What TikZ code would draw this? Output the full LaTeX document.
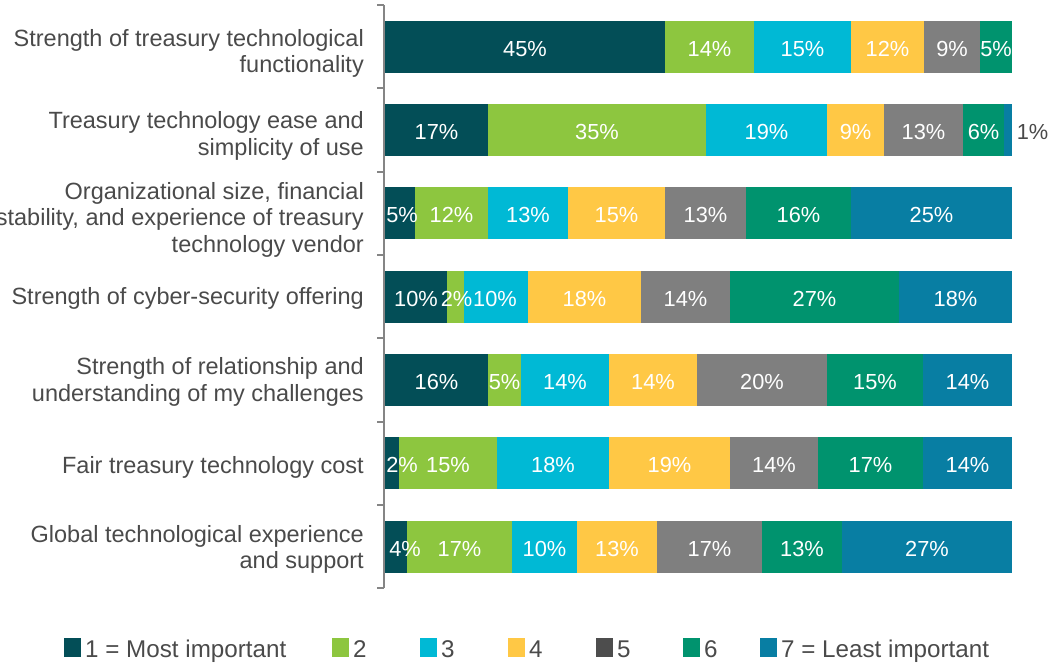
\documentclass[tikz,border=0pt]{standalone}
\usepackage{fontspec}
\setmainfont{Liberation Sans}
\definecolor{cA}{HTML}{034E57}
\definecolor{cB}{HTML}{8DC63F}
\definecolor{cC}{HTML}{00B9D5}
\definecolor{cD}{HTML}{FFC845}
\definecolor{cE}{HTML}{7F7F7F}
\definecolor{cEleg}{HTML}{4D4D4D}
\definecolor{cF}{HTML}{00936E}
\definecolor{cG}{HTML}{087EA3}
\definecolor{txtgrey}{HTML}{4A4A4A}
\definecolor{axisgrey}{HTML}{858585}
\pgfdeclarelayer{bars}
\pgfsetlayers{bars,main}
\newcommand\barseg[7]{%
  \begin{pgfonlayer}{bars}
  \node[segbox, fill=#5, minimum width={(#3-#2)*1pt}] (#1) at ({(#2+#3)/2},#4) {};
  \end{pgfonlayer}
  \node[seglabel, xshift=#7] (#1l) at (#1.center) {#6};}
\newcommand\legitem[4]{%
  \node[legsq, fill=#3] (#1) at (#2,647) {};
  \node[leglabel] (#1t) at (#2+12.5,657) {#4};}
\begin{document}
\begin{tikzpicture}[x=1pt,y=-1pt,
  segbox/.style={draw=none, inner sep=0pt, outer sep=0pt, minimum height=52pt},
  seglabel/.style={text=white, font=\fontsize{21.8}{24}\selectfont, inner sep=0pt,
    text height=15.6pt, text depth=0pt, yshift=-1.5pt},
  catlabel/.style={text=txtgrey, font=\fontsize{23.5}{26.3}\selectfont, align=right,
    inner sep=0pt, anchor=base east},
  legsq/.style={draw=none, inner sep=0pt, minimum width=17pt, minimum height=19pt},
  leglabel/.style={text=txtgrey, font=\fontsize{24.2}{26}\selectfont, inner sep=0pt, anchor=base west},
  axisline/.style={draw=axisgrey, line width=1.8pt}]
\useasboundingbox (0,0) rectangle (1050,662);

% category labels (anchored at the baseline of their last line)
\node[catlabel] (cat1) at (364,72.7) {Strength of treasury technological\\functionality};
\node[catlabel] (cat2) at (364,155) {Treasury technology ease and\\simplicity of use};
\node[catlabel] (cat3) at (364,252) {Organizational size, financial\\stability, and experience of treasury\\technology vendor};
\node[catlabel] (cat4) at (364,304) {Strength of cyber-security offering};
\node[catlabel] (cat5) at (364,401) {Strength of relationship and\\understanding of my challenges};
\node[catlabel] (cat6) at (364,473.3) {Fair treasury technology cost};
\node[catlabel] (cat7) at (364,568.3) {Global technological experience\\and support};

% row 1
\def\ry{46.7}
\barseg{a1}{385}{665}{\ry}{cA}{45\%}{0pt}
\barseg{a2}{665}{754}{\ry}{cB}{14\%}{0pt}
\barseg{a3}{754}{851}{\ry}{cC}{15\%}{0pt}
\barseg{a4}{851}{924}{\ry}{cD}{12\%}{0pt}
\barseg{a5}{924}{980}{\ry}{cE}{9\%}{0pt}
\barseg{a6}{980}{1012}{\ry}{cF}{5\%}{0pt}
% row 2
\def\ry{130}
\barseg{b1}{385}{488}{\ry}{cA}{17\%}{0pt}
\barseg{b2}{488}{706}{\ry}{cB}{35\%}{0pt}
\barseg{b3}{706}{827}{\ry}{cC}{19\%}{0pt}
\barseg{b4}{827}{884}{\ry}{cD}{9\%}{0pt}
\barseg{b5}{884}{963}{\ry}{cE}{13\%}{0pt}
\barseg{b6}{963}{1004}{\ry}{cF}{6\%}{0pt}
\node[segbox, fill=cG, minimum width=8pt] (b7) at (1008,\ry) {};
\node[seglabel, text=txtgrey] (b7l) at (1032.5,\ry) {1\%};
% row 3
\def\ry{213.3}
\barseg{c1}{385}{415}{\ry}{cA}{5\%}{2pt}
\barseg{c2}{415}{488}{\ry}{cB}{12\%}{0pt}
\barseg{c3}{488}{568}{\ry}{cC}{13\%}{0pt}
\barseg{c4}{568}{665}{\ry}{cD}{15\%}{0pt}
\barseg{c5}{665}{746}{\ry}{cE}{13\%}{0pt}
\barseg{c6}{746}{851}{\ry}{cF}{16\%}{0pt}
\barseg{c7}{851}{1012}{\ry}{cG}{25\%}{0pt}
% row 4
\def\ry{296.7}
\barseg{d1}{385}{447}{\ry}{cA}{10\%}{0pt}
\barseg{d2}{447}{464}{\ry}{cB}{2\%}{1pt}
\barseg{d3}{464}{528}{\ry}{cC}{10\%}{-1pt}
\barseg{d4}{528}{641}{\ry}{cD}{18\%}{0pt}
\barseg{d5}{641}{730}{\ry}{cE}{14\%}{0pt}
\barseg{d6}{730}{899}{\ry}{cF}{27\%}{0pt}
\barseg{d7}{899}{1012}{\ry}{cG}{18\%}{0pt}
% row 5
\def\ry{380}
\barseg{e1}{385}{488}{\ry}{cA}{16\%}{0pt}
\barseg{e2}{488}{521}{\ry}{cB}{5\%}{0pt}
\barseg{e3}{521}{609}{\ry}{cC}{14\%}{0pt}
\barseg{e4}{609}{697}{\ry}{cD}{14\%}{0pt}
\barseg{e5}{697}{827}{\ry}{cE}{20\%}{0pt}
\barseg{e6}{827}{923}{\ry}{cF}{15\%}{0pt}
\barseg{e7}{923}{1012}{\ry}{cG}{14\%}{0pt}
% row 6
\def\ry{463.3}
\barseg{f1}{385}{399}{\ry}{cA}{2\%}{10pt}
\barseg{f2}{399}{497}{\ry}{cB}{15\%}{0pt}
\barseg{f3}{497}{609}{\ry}{cC}{18\%}{0pt}
\barseg{f4}{609}{730}{\ry}{cD}{19\%}{0pt}
\barseg{f5}{730}{818}{\ry}{cE}{14\%}{0pt}
\barseg{f6}{818}{923}{\ry}{cF}{17\%}{0pt}
\barseg{f7}{923}{1012}{\ry}{cG}{14\%}{0pt}
% row 7
\def\ry{546.7}
\barseg{g1}{385}{407}{\ry}{cA}{4\%}{9pt}
\barseg{g2}{407}{512}{\ry}{cB}{17\%}{0pt}
\barseg{g3}{512}{577}{\ry}{cC}{10\%}{0pt}
\barseg{g4}{577}{657}{\ry}{cD}{13\%}{0pt}
\barseg{g5}{657}{762}{\ry}{cE}{17\%}{0pt}
\barseg{g6}{762}{842}{\ry}{cF}{13\%}{0pt}
\barseg{g7}{842}{1012}{\ry}{cG}{27\%}{0pt}

% axis
\coordinate (axtop) at (384,5);
\coordinate (axbot) at (384,588.3);
\draw[axisline] (axtop) -- (axbot);
\foreach \k in {0,...,7}{
  \coordinate (tk\k) at (384,5+83.33*\k);
  \draw[axisline] (tk\k) -- ++(-7,0);
}

% legend
\legitem{k1}{72.5}{cA}{1 = Most important}
\legitem{k2}{340.5}{cB}{2}
\legitem{k3}{428.5}{cC}{3}
\legitem{k4}{516.5}{cD}{4}
\legitem{k5}{604.5}{cEleg}{5}
\legitem{k6}{691.5}{cF}{6}
\legitem{k7}{768.5}{cG}{7 = Least important}
\end{tikzpicture}
\end{document}
